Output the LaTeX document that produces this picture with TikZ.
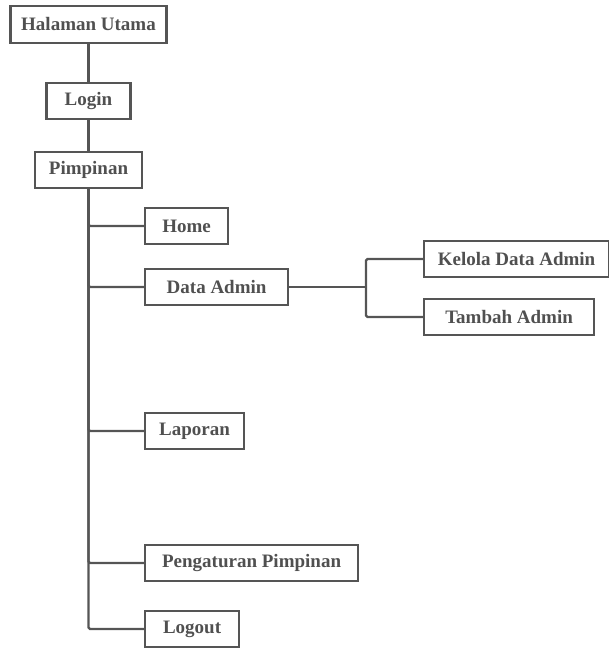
\documentclass[tikz,border=0pt]{standalone}
\usepackage{fontspec}
\setmainfont{Liberation Serif}
\definecolor{boxgray}{HTML}{555555}
\definecolor{textgray}{HTML}{505050}
\tikzset{
  menu/.style={draw=boxgray, line width=2.2pt, text=textgray, font=\bfseries\fontsize{19}{23}\selectfont,
    minimum height=36pt, inner sep=0pt},
  link/.style={draw=boxgray, line width=2.2pt, rounded corners=1.5pt}
}
\begin{document}
\begin{tikzpicture}[x=1pt,y=-1pt]
\useasboundingbox (0,0) rectangle (609,648);

\node[menu, minimum width=156, minimum height=37] (hal) at (88.5,24.5) {Halaman Utama};
\node[menu, minimum width=84] (login) at (88.5,101) {Login};
\node[menu, minimum width=107] (pimp) at (88.5,170) {Pimpinan};

\node[menu, anchor=west, minimum width=83] (home) at (144,226) {Home};
\node[menu, anchor=west, minimum width=143] (data) at (144,287) {Data Admin};
\node[menu, anchor=west, minimum width=185] (kelola) at (423,259) {Kelola Data Admin};
\node[menu, anchor=west, minimum width=170] (tambah) at (423,317) {Tambah Admin};
\node[menu, anchor=west, minimum width=99] (lapor) at (144,431) {Laporan};
\node[menu, anchor=west, minimum width=213] (atur) at (144,563) {Pengaturan Pimpinan};
\node[menu, anchor=west, minimum width=94] (logout) at (144,629) {Logout};

\coordinate (split) at (366,287);

\draw[link] (hal) -- (login);
\draw[link] (login) -- (pimp);
\foreach \n in {home,data,lapor,atur,logout}
  \draw[link] (pimp) |- (\n);
\draw[link] (data) -- (split);
\draw[link] (split) |- (kelola);
\draw[link] (split) |- (tambah);
\end{tikzpicture}
\end{document}
